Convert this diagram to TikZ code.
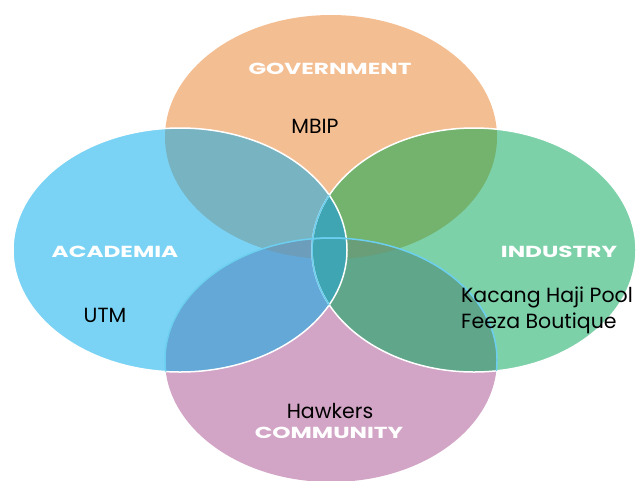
\documentclass[tikz,border=0pt]{standalone}
\usepackage{fontspec}
\setmainfont{Poppins}
\usetikzlibrary{positioning}
\definecolor{govcol}{HTML}{F4BE93}
\definecolor{acacol}{HTML}{7AD3F5}
\definecolor{indcol}{HTML}{7DD1A9}
\definecolor{comcol}{HTML}{D2A4C5}
\definecolor{gacol}{HTML}{78B3C2}
\definecolor{gicol}{HTML}{74B36E}
\definecolor{accol}{HTML}{63A8D6}
\definecolor{iccol}{HTML}{5FA68A}
\definecolor{aicol}{HTML}{3FA5B3}
\definecolor{gaccol}{HTML}{6C9DBA}
\definecolor{giccol}{HTML}{699E78}
\definecolor{edgecol}{HTML}{6CCFEF}
\def\govpath{(331,137) ellipse [x radius=166pt, y radius=122pt]}
\def\acapath{(180,250) ellipse [x radius=167pt, y radius=122pt]}
\def\indpath{(474,250) ellipse [x radius=162pt, y radius=122pt]}
\def\compath{(331,360) ellipse [x radius=166pt, y radius=122pt]}

\begin{document}
\begin{tikzpicture}[x=1pt, y=-1pt,
  head/.style={text=white, inner sep=0pt, xscale=1.45,
    font=\bfseries\fontsize{16}{16}\selectfont},
  member/.style={text=black, inner sep=0pt, align=left,
    font=\fontsize{20.5}{26}\selectfont}]
  \useasboundingbox (0,0) rectangle (636,480);
  \clip (0,0) rectangle (636,480);

  % the four sectors
  \fill[govcol] \govpath;
  \fill[comcol] \compath;
  \fill[acacol] \acapath;
  \fill[indcol] \indpath;

  % overlaps
  \begin{scope}
    \clip \govpath;
    \fill[gacol] \acapath;
    \fill[gicol] \indpath;
  \end{scope}
  \begin{scope}
    \clip \compath;
    \fill[accol] \acapath;
    \fill[iccol] \indpath;
  \end{scope}
  \begin{scope}
    \clip \govpath; \clip \compath;
    \fill[gaccol] \acapath;
    \fill[giccol] \indpath;
  \end{scope}
  \begin{scope}
    \clip \acapath;
    \fill[aicol] \indpath;
  \end{scope}

  % edges
  \draw[white, line width=1.5pt] \acapath \indpath;
  \begin{scope}
    \clip \acapath;
    \draw[edgecol, line width=1.5pt] \indpath \compath;
  \end{scope}
  \begin{scope}
    \clip \indpath;
    \draw[edgecol, line width=1.5pt] \compath;
  \end{scope}

  % labels
  \node[head] (govlbl) at (330,69) {GOVERNMENT};
  \node[head] (acalbl) at (115,252) {ACADEMIA};
  \node[head] (indlbl) at (559,252) {INDUSTRY};
  \node[head] (comlbl) at (329,433) {COMMUNITY};

  \node[member] (mbip) at (315,126) {MBIP};
  \node[member] (utm) at (105,315) {UTM};
  \node[member, anchor=west] (firms) at (461,310) {Kacang Haji Pool\\Feeza Boutique};
  \node[member] (hawkers) at (330,411) {Hawkers};
\end{tikzpicture}
\end{document}
